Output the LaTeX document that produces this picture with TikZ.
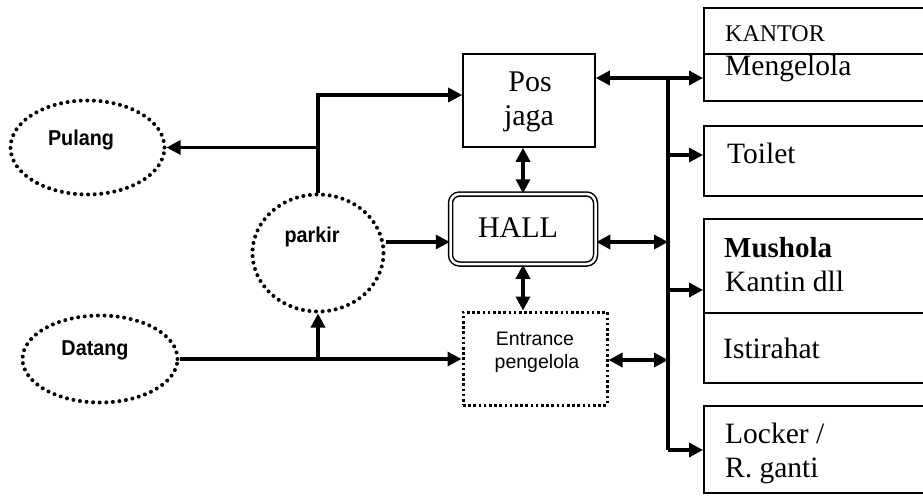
\documentclass[tikz,border=0pt]{standalone}
\usepackage{fontspec}
\setmainfont{Liberation Serif}
\setsansfont{Liberation Sans}
\newfontfamily\lblsans{Liberation Sans}[FakeStretch=0.92]
\usetikzlibrary{arrows.meta,shapes.geometric}
\tikzset{
  tip/.tip={Triangle[length=14pt,width=14pt]},
  plain/.style={line width=3.3pt},
  arr/.style={line width=3.3pt,-tip},
  darr/.style={line width=3.3pt,tip-tip},
  dotell/.style={ellipse,draw,line width=4pt,dash pattern=on 0pt off 6.6pt,line cap=round},
  rbox/.style={draw,line width=1.6pt,rectangle,anchor=north west,minimum width=260pt,inner sep=0pt},
  sbox/.style={draw,line width=1.6pt,rectangle,inner sep=0pt},
  hallbox/.style={draw,double,double distance=2.5pt,line width=1.5pt,rounded corners=9pt,inner sep=0pt},
  entbox/.style={draw,line width=3pt,dash pattern=on 2.6pt off 2.6pt,inner sep=0pt},
  rl/.style={font=\fontsize{29.5}{33}\selectfont,inner sep=0pt,anchor=base west},
  cl/.style={font=\fontsize{30}{33}\selectfont,inner sep=0pt,anchor=base},
  sl/.style={font=\lblsans\bfseries\fontsize{21.5}{24}\selectfont,inner sep=0pt,anchor=base},
  el/.style={font=\sffamily\fontsize{19.5}{22}\selectfont,inner sep=0pt,anchor=base},
}
\begin{document}
\begin{tikzpicture}[x=1pt,y=-1pt]
\clip (0,0) rectangle (923,500);
\fill[white] (0,0) rectangle (923,500);

% left ellipses
\node[dotell,minimum width=154pt,minimum height=94pt] (pulang) at (87.5,147.5) {};
\node[dotell,minimum width=131pt,minimum height=117pt] (parkir) at (318,253) {};
\node[dotell,minimum width=155pt,minimum height=87pt] (datang) at (100,359) {};
\node[sl] (tpulang) at (81,146) {Pulang};
\node[sl] (tparkir) at (312,242) {parkir};
\node[sl] (tdatang) at (95,355) {Datang};

% middle boxes
\node[sbox,minimum width=132pt,minimum height=93pt] (posjaga) at (529,100.5) {};
\node[cl] (tpos) at (530,92) {Pos};
\node[cl] (tjaga) at (529,125) {jaga};
\node[hallbox,minimum width=145pt,minimum height=70pt] (hall) at (523,229) {};
\node[cl] (thall) at (518,237) {HALL};
\node[entbox,minimum width=144pt,minimum height=93pt] (ent) at (535,358.5) {};
\node[el] (tent1) at (535,345) {Entrance};
\node[el] (tent2) at (537,368) {pengelola};

% right boxes
\node[rbox,minimum height=93pt] (kantor) at (703,7) {};
\draw[line width=1.3pt] (703,54) -- (923,54);
\node[rl,font=\fontsize{24}{28}\selectfont] (tkantor) at (725,42) {KANTOR};
\node[rl] (tmeng) at (725,76) {Mengelola};
\node[rbox,minimum height=70pt] (toilet) at (703,125) {};
\node[rl] (ttoilet) at (727,163) {Toilet};
\node[rbox,minimum height=94pt] (mushola) at (703,218) {};
\node[rl,font=\bfseries\fontsize{29}{33}\selectfont] (tmush) at (724,257) {Mushola};
\node[rl] (tkantin) at (725,291) {Kantin dll};
\node[rbox,minimum height=70pt] (istirahat) at (703,312) {};
\node[rl] (tist) at (723,358) {Istirahat};
\node[rbox,minimum height=87pt] (locker) at (703,405) {};
\node[rl] (tlock1) at (725,443) {Locker /};
\node[rl] (tlock2) at (725,477) {R. ganti};

% bus coordinates
\coordinate (bt) at (668,78);
\coordinate (bToilet) at (668,155);
\coordinate (bHall) at (668,242);
\coordinate (bMush) at (668,290);
\coordinate (bEnt) at (668,360);
\coordinate (bb) at (668,450);
\coordinate (hy) at (523,242);
\coordinate (py) at (529,95);

% connectors
\draw[plain] (parkir.north) |- (pulang.east -| parkir.north);
\draw[arr] (parkir.north) |- (posjaga.west |- py);
\draw[arr] (pulang.east -| parkir.north) -- (pulang.east);
\draw[arr] (parkir.east |- hy) -- (hall.west |- hy);
\draw[arr] (datang.east) -- (ent.west |- datang.east);
\draw[arr] (parkir.south |- datang.east) -- (parkir.south);
\draw[darr] (posjaga.south -| hall.north) -- (hall.north);
\draw[darr] (hall.south) -- (ent.north -| hall.south);

\draw[plain] (bt) -- (bb);
\draw[darr] (posjaga.east |- bt) -- (kantor.west |- bt);
\draw[arr] (bToilet) -- (toilet.west |- bToilet);
\draw[darr] (hall.east |- bHall) -- (bHall);
\draw[arr] (bMush) -- (mushola.west |- bMush);
\draw[darr] (ent.east |- bEnt) -- (bEnt);
\draw[arr] (bb) -- (locker.west |- bb);
\end{tikzpicture}
\end{document}
